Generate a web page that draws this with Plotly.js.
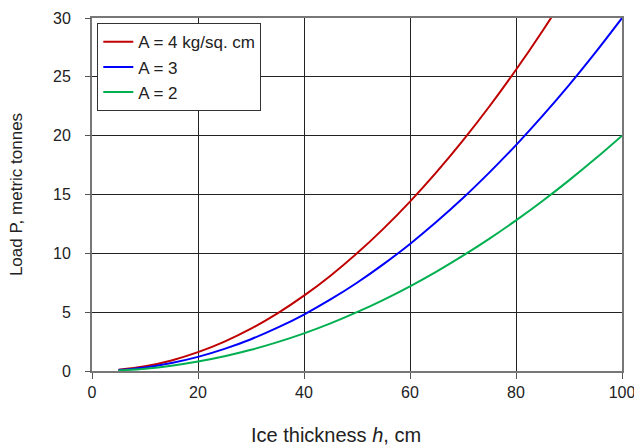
<!DOCTYPE html>
<html>
<head>
<meta charset="utf-8">
<script src="https://cdn.plot.ly/plotly-3.0.1.min.js"></script>
<style>html,body{margin:0;padding:0;background:#fff;}#chart{width:634px;height:445px;}</style>
</head>
<body>
<div id="chart"></div>
<script>
const thickness = [5, 10, 15, 20, 25, 30, 35, 40, 45, 50, 55, 60, 65, 70, 75, 80, 85, 90, 95, 100];
const loadA4 = [0.1, 0.4, 0.9, 1.6, 2.5, 3.6, 4.9, 6.4, 8.1, 10.0, 12.1, 14.4, 16.9, 19.6, 22.5, 25.6, 28.9, 32.4, 36.1, 40.0];
const loadA3 = [0.08, 0.3, 0.68, 1.2, 1.88, 2.7, 3.68, 4.8, 6.08, 7.5, 9.08, 10.8, 12.68, 14.7, 16.88, 19.2, 21.68, 24.3, 27.08, 30.0];
const loadA2 = [0.05, 0.2, 0.45, 0.8, 1.25, 1.8, 2.45, 3.2, 4.05, 5.0, 6.05, 7.2, 8.45, 9.8, 11.25, 12.8, 14.45, 16.2, 18.05, 20.0];
const seriesNames = ['A = 4 kg/sq. cm', 'A = 3', 'A = 2'];
const colors = ['#c00000', '#0000ff', '#00b050'];
const axisIds = ['y', 'y', 'y2'];

const traces = [loadA4, loadA3, loadA2].map((vals, i) => ({
  x: thickness, y: vals, type: 'scatter', mode: 'lines', name: seriesNames[i],
  yaxis: axisIds[i],
  line: {color: colors[i], width: 2, shape: 'spline'}
}));

const layout = {
  width: 634, height: 445,
  margin: {l: 92, r: 12, t: 18, b: 74},
  paper_bgcolor: '#fff', plot_bgcolor: '#fff',
  font: {family: 'Liberation Sans, Arial, sans-serif', size: 16, color: '#222'},
  showlegend: true,
  legend: {x: 0.01, y: 0.985, xanchor: 'left', yanchor: 'top', bgcolor: '#fff',
           bordercolor: '#333', borderwidth: 1, font: {size: 17},
           tracegroupgap: 0},
  xaxis: {
    range: [0, 100], dtick: 20, tick0: 0,
    showgrid: true, gridcolor: '#222', gridwidth: 1,
    showline: true, linecolor: '#777', linewidth: 2, mirror: true,
    ticks: 'outside', ticklen: 6, tickcolor: '#555',
    ticklabeloverflow: 'allow',
    zeroline: false, fixedrange: true,
    tickfont: {size: 16}
  },
  yaxis: {
    range: [0, 30], dtick: 5, tick0: 0,
    showgrid: true, gridcolor: '#222', gridwidth: 1,
    showline: true, linecolor: '#777', linewidth: 2, mirror: true,
    ticks: 'outside', ticklen: 16, tickcolor: 'rgba(0,0,0,0)',
    zeroline: false, fixedrange: true,
    tickfont: {size: 16},
    title: {text: 'Load P, metric tonnes', font: {size: 17}, standoff: 26}
  },
  yaxis2: {
    overlaying: 'y', side: 'left',
    range: [0, 30], dtick: 5, tick0: 0,
    showgrid: false, showline: false, zeroline: false,
    showticklabels: false,
    ticks: 'outside', ticklen: 6, tickcolor: '#555', fixedrange: true
  },
  annotations: [{
    text: 'Ice thickness <i>h</i>, cm', xref: 'paper', yref: 'paper',
    x: 0.46, y: -0.18, xanchor: 'center', yanchor: 'middle',
    showarrow: false, font: {size: 20}
  }]
};

Plotly.newPlot('chart', traces, layout, {displayModeBar: false, staticPlot: true});
</script>
</body>
</html>
